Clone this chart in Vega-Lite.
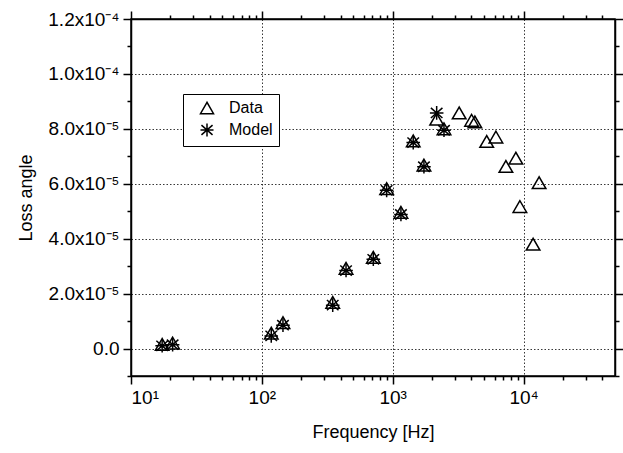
{
  "$schema": "https://vega.github.io/schema/vega-lite/v6.json",
  "width": 484,
  "height": 357,
  "autosize": {"type": "none"},
  "padding": {"left": 131, "top": 19, "right": 8, "bottom": 77},
  "background": "white",
  "config": {
    "view": {"stroke": "black", "strokeWidth": 1.5},
    "font": "Liberation Sans",
    "axis": {
      "domainColor": "black", "domainWidth": 1.5, "tickColor": "black", "tickWidth": 1.5,
      "labelColor": "black", "titleColor": "black", "labelFont": "Liberation Sans", "titleFont": "Liberation Sans",
      "labelFontSize": 19, "titleFontSize": 18, "titleFontWeight": "normal",
      "gridColor": "#222", "gridDash": [1.5, 2], "gridWidth": 1, "gridOpacity": 0.9
    }
  },
  "data": {"values": [
    {"f": 17.3, "v": 1.5e-6, "series": "Data"},
    {"f": 20.8, "v": 2.0e-6, "series": "Data"},
    {"f": 118, "v": 5.6e-6, "series": "Data"},
    {"f": 145, "v": 9.4e-6, "series": "Data"},
    {"f": 348, "v": 1.68e-5, "series": "Data"},
    {"f": 440, "v": 2.92e-5, "series": "Data"},
    {"f": 711, "v": 3.32e-5, "series": "Data"},
    {"f": 899, "v": 5.82e-5, "series": "Data"},
    {"f": 1156, "v": 4.96e-5, "series": "Data"},
    {"f": 1435, "v": 7.56e-5, "series": "Data"},
    {"f": 1733, "v": 6.68e-5, "series": "Data"},
    {"f": 2168, "v": 8.35e-5, "series": "Data"},
    {"f": 2466, "v": 8.0e-5, "series": "Data"},
    {"f": 3221, "v": 8.58e-5, "series": "Data"},
    {"f": 4009, "v": 8.31e-5, "series": "Data"},
    {"f": 4246, "v": 8.25e-5, "series": "Data"},
    {"f": 5228, "v": 7.54e-5, "series": "Data"},
    {"f": 6150, "v": 7.7e-5, "series": "Data"},
    {"f": 7330, "v": 6.63e-5, "series": "Data"},
    {"f": 8735, "v": 6.93e-5, "series": "Data"},
    {"f": 9378, "v": 5.17e-5, "series": "Data"},
    {"f": 11830, "v": 3.8e-5, "series": "Data"},
    {"f": 13150, "v": 6.04e-5, "series": "Data"},
    {"f": 17.3, "v": 1.0e-6, "series": "Model"},
    {"f": 20.8, "v": 1.4e-6, "series": "Model"},
    {"f": 118, "v": 4.6e-6, "series": "Model"},
    {"f": 145, "v": 8.5e-6, "series": "Model"},
    {"f": 348, "v": 1.58e-5, "series": "Model"},
    {"f": 440, "v": 2.84e-5, "series": "Model"},
    {"f": 711, "v": 3.25e-5, "series": "Model"},
    {"f": 899, "v": 5.76e-5, "series": "Model"},
    {"f": 1156, "v": 4.88e-5, "series": "Model"},
    {"f": 1435, "v": 7.5e-5, "series": "Model"},
    {"f": 1733, "v": 6.62e-5, "series": "Model"},
    {"f": 2168, "v": 8.58e-5, "series": "Model"},
    {"f": 2466, "v": 7.95e-5, "series": "Model"}
  ]},
  "resolve": {"axis": {"x": "independent", "y": "independent"}},
  "layer": [
    {
      "mark": {"type": "point", "filled": false, "stroke": "black", "strokeWidth": 1.5, "size": 185, "opacity": 1},
      "encoding": {
        "x": {"field": "f", "type": "quantitative", "scale": {"type": "log", "domain": [10, 50000], "nice": false},
          "axis": {"orient": "bottom", "values": [10, 100, 1000, 10000], "tickSize": 8, "grid": true, "labelPadding": 4,
            "labelExpr": "'10' + (datum.value == 10 ? '¹' : datum.value == 100 ? '²' : datum.value == 1000 ? '³' : '⁴')",
            "title": "Frequency [Hz]", "titlePadding": 16}},
        "y": {"field": "v", "type": "quantitative", "scale": {"domain": [-1e-5, 1.2e-4], "nice": false, "zero": false},
          "axis": {"orient": "left", "values": [0, 2e-5, 4e-5, 6e-5, 8e-5, 1e-4, 1.2e-4], "tickSize": 8, "grid": true, "labelPadding": 4,
            "labelExpr": "datum.value == 0 ? '0.0' : datum.value < 9e-5 ? format(datum.value*1e5, '.1f') + 'x10⁻⁵' : format(datum.value*1e4, '.1f') + 'x10⁻⁴'",
            "title": "Loss angle", "titlePadding": 12, "titleFontSize": 18}},
        "shape": {"field": "series", "type": "nominal",
          "scale": {"domain": ["Data", "Model"], "range": ["triangle-up", "M0,-1L0,1M-0.85,-0.75L0.85,0.75M-0.85,0.75L0.85,-0.75M-1,0L1,0"]},
          "legend": {"title": null, "orient": "none", "legendX": 52, "legendY": 75, "strokeColor": "black", "padding": 6,
            "labelFontSize": 16, "labelFont": "Liberation Sans", "labelColor": "black", "symbolSize": 170, "symbolStrokeWidth": 1.5,
            "symbolStrokeColor": "black", "symbolFillColor": "transparent", "rowPadding": 3, "symbolOffset": 10, "labelOffset": 14,
            "labelExpr": "datum.label + '   '", "fillColor": "white"}}
      }
    },
    {
      "mark": {"type": "point", "opacity": 0},
      "encoding": {
        "x": {"field": "f", "type": "quantitative",
          "axis": {"orient": "bottom", "values": [20,30,40,50,60,70,80,90,200,300,400,500,600,700,800,900,2000,3000,4000,5000,6000,7000,8000,9000,20000,30000,40000],
            "tickSize": 4, "labels": false, "grid": false, "domain": false, "title": null}},
        "y": {"field": "v", "type": "quantitative",
          "axis": {"orient": "left", "values": [-1e-5, 1e-5, 3e-5, 5e-5, 7e-5, 9e-5, 1.1e-4], "tickSize": 4, "labels": false, "grid": false, "domain": false, "title": null}}
      }
    },
    {
      "mark": {"type": "point", "opacity": 0},
      "encoding": {
        "x": {"field": "f", "type": "quantitative",
          "axis": {"orient": "top", "values": [10, 100, 1000, 10000], "tickSize": 8, "labels": false, "grid": false, "title": null}},
        "y": {"field": "v", "type": "quantitative",
          "axis": {"orient": "right", "values": [0, 2e-5, 4e-5, 6e-5, 8e-5, 1e-4, 1.2e-4], "tickSize": 8, "labels": false, "grid": false, "title": null}}
      }
    },
    {
      "mark": {"type": "point", "opacity": 0},
      "encoding": {
        "x": {"field": "f", "type": "quantitative",
          "axis": {"orient": "top", "values": [20,30,40,50,60,70,80,90,200,300,400,500,600,700,800,900,2000,3000,4000,5000,6000,7000,8000,9000,20000,30000,40000],
            "tickSize": 4, "labels": false, "grid": false, "domain": false, "title": null}},
        "y": {"field": "v", "type": "quantitative",
          "axis": {"orient": "right", "values": [-1e-5, 1e-5, 3e-5, 5e-5, 7e-5, 9e-5, 1.1e-4], "tickSize": 4, "labels": false, "grid": false, "domain": false, "title": null}}
      }
    }
  ]
}
